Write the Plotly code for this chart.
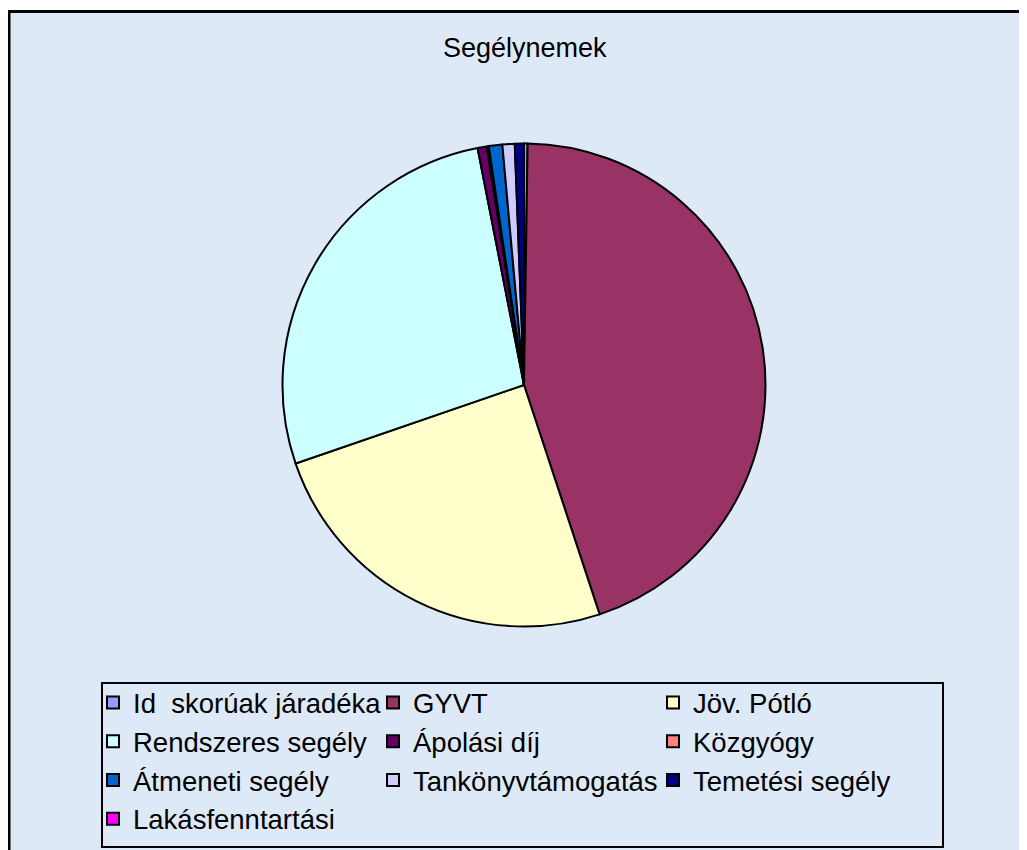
import plotly.graph_objects as go

labels = ["Id  skorúak járadéka", "GYVT", "Jöv. Pótló", "Rendszeres segély", "Ápolási díj",
          "Közgyógy", "Átmeneti segély", "Tankönyvtámogatás", "Temetési segély", "Lakásfenntartási"]
values = [0.24, 44.7, 24.8, 27.2, 0.61, 0.14, 0.9, 0.82, 0.61, 0.0]
colors = ["#9999FF", "#993366", "#FFFFCC", "#CCFFFF", "#660066",
          "#FF8080", "#0066CC", "#CCCCFF", "#000080", "#FF00FF"]
title_text = "Segélynemek"

W, H = 1027, 850
FONT = "Liberation Sans, Arial, sans-serif"
OFF = 8  # page body margin


def px(x):
    return (x - OFF) / W


def py(y):
    return 1 - (y - OFF) / H


cx, cy, r = 524, 385, 241.5

fig = go.Figure(go.Pie(
    labels=labels, values=values, sort=False, direction="clockwise", rotation=0,
    marker=dict(colors=colors, line=dict(color="black", width=2)),
    textinfo="none", hoverinfo="label+percent",
    domain=dict(x=[px(cx - r), px(cx + r)], y=[py(cy + r), py(cy - r)]),
))

fig.update_layout(
    width=W, height=H,
    margin=dict(l=0, r=0, t=0, b=0),
    paper_bgcolor="white",
    font=dict(family=FONT, color="black"),
    showlegend=True,
    legend=dict(
        orientation="h", x=px(93), y=py(678), xanchor="left", yanchor="top",
        font=dict(size=27.5, family=FONT, color="black"),
        bgcolor="rgba(0,0,0,0)", borderwidth=0,
        entrywidth=235, entrywidthmode="pixels", traceorder="normal",
    ),
    shapes=[
        dict(type="rect", xref="paper", yref="paper", layer="below",
             x0=px(9), x1=1.02, y0=-0.02, y1=py(11.5),
             fillcolor="#DEE9F8", line=dict(color="black", width=3)),
        dict(type="rect", xref="paper", yref="paper", layer="above",
             x0=px(102), x1=px(943), y0=py(847), y1=py(683),
             fillcolor="rgba(0,0,0,0)", line=dict(color="black", width=2)),
    ],
    annotations=[dict(text=title_text, xref="paper", yref="paper", x=px(525), y=py(48),
                      xanchor="center", yanchor="middle",
                      showarrow=False, font=dict(size=27, family=FONT, color="black"))],
)

fig.write_html("out.html")
